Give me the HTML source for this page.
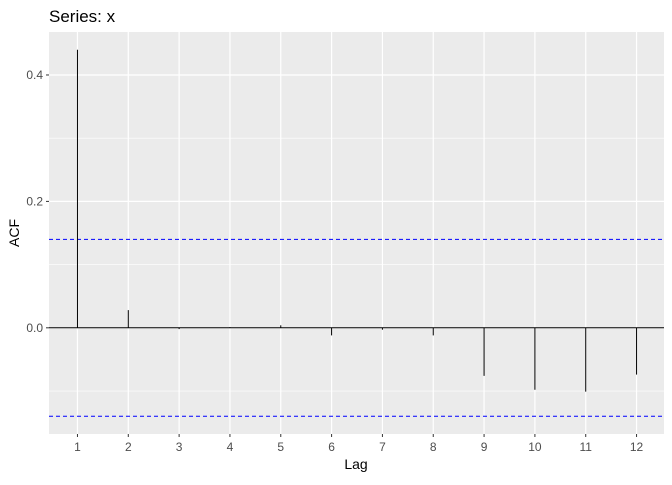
<!DOCTYPE html>
<html><head><meta charset="utf-8"><style>
body{margin:0;background:#fff;font-family:"Liberation Sans",Arial,sans-serif}
</style></head><body>
<svg id="c" width="672" height="480" xmlns="http://www.w3.org/2000/svg">
<text x="49" y="22" font-size="17" fill="#000">Series: x</text>
<rect x="49" y="32" width="615" height="402" fill="#ebebeb"/>
<g id="grid"></g><g id="marks"></g><g id="axes"></g>
<text x="356" y="469" font-size="14" text-anchor="middle" fill="#000">Lag</text>
<text transform="translate(19,233) rotate(-90)" font-size="14" text-anchor="middle" fill="#000">ACF</text>
</svg>
<script>
const lags=[1,2,3,4,5,6,7,8,9,10,11,12];
const acf=[0.44,0.028,-0.002,0.001,0.004,-0.012,-0.003,-0.012,-0.076,-0.098,-0.101,-0.074];
const ci=0.14;
const yTicks=[0.0,0.2,0.4];
const yTickLabels=["0.0","0.2","0.4"];
const yMinor=[-0.1,0.1,0.3];
const NS="http://www.w3.org/2000/svg";
const L=49,R=664,T=32,B=434,xmin=0.44,xmax=12.54,ymin=-0.168,ymax=0.468;
const X=v=>L+(v-xmin)/(xmax-xmin)*(R-L);
const Y=v=>B-(v-ymin)/(ymax-ymin)*(B-T);
function mk(tag,at,parent){const e=document.createElementNS(NS,tag);for(const k in at)e.setAttribute(k,at[k]);document.getElementById(parent).appendChild(e);return e;}
yMinor.forEach(v=>{const e=mk('line',{x1:L,x2:R,y1:Y(v),y2:Y(v),stroke:'#fff','stroke-width':0.6},'grid');

});
yTicks.forEach((v,i)=>{const e=mk('line',{x1:L,x2:R,y1:Y(v),y2:Y(v),stroke:'#fff','stroke-width':1.2},'grid');


const t=mk('line',{x1:L-3,x2:L,y1:Y(v),y2:Y(v),stroke:'#333','stroke-width':1},'axes');


const tx=mk('text',{x:L-6,y:Y(v)+4,'font-size':12,'text-anchor':'end',fill:'#4d4d4d'},'axes');tx.textContent=yTickLabels[i];

});
lags.forEach(v=>{const e=mk('line',{x1:X(v),x2:X(v),y1:T,y2:B,stroke:'#fff','stroke-width':1.2},'grid');


const t=mk('line',{x1:X(v),x2:X(v),y1:B,y2:B+3,stroke:'#333','stroke-width':1},'axes');


const tx=mk('text',{x:X(v),y:B+17,'font-size':12,'text-anchor':'middle',fill:'#4d4d4d'},'axes');tx.textContent=v;

});
[ci,-ci].forEach(v=>{const e=mk('line',{x1:L,x2:R,y1:Y(v),y2:Y(v),stroke:'#0000ff','stroke-width':1,'stroke-dasharray':'4,3'},'marks');

});
const z=mk('line',{x1:L,x2:R,y1:Y(0),y2:Y(0),stroke:'#000','stroke-width':1},'marks');


lags.forEach((v,i)=>{const e=mk('line',{x1:X(v),x2:X(v),y1:Y(0),y2:Y(acf[i]),stroke:'#000','stroke-width':1},'marks');

});
</script>
</body></html>
